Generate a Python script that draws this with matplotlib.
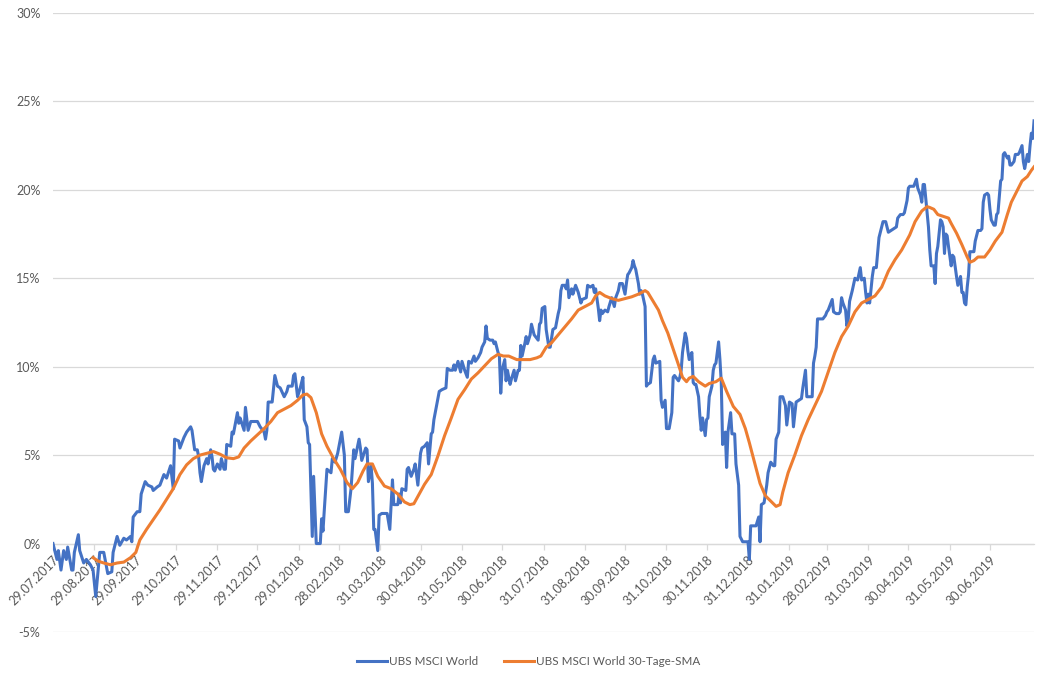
import pandas as pd
import matplotlib.pyplot as plt
import matplotlib.dates as mdates
from matplotlib.ticker import FuncFormatter

plt.rcParams['font.family'] = ['Lato', 'DejaVu Sans']

start = pd.Timestamp('2017-07-29')

# UBS MSCI World, performance in % (day = days since 29.07.2017)
blue_days = [
    0, 3, 4, 6, 8, 10, 11, 14, 15, 16, 19, 20, 23, 25, 28, 30, 32, 34, 35, 38,
    40, 41, 44, 45, 48, 50, 53, 55, 58, 59, 60, 63, 65, 66, 69, 71, 74, 75, 78, 80,
    83, 85, 88, 90, 91, 94, 95, 98, 100, 103, 104, 106, 108, 109, 110, 111, 113, 115, 116, 118,
    119, 120, 121, 123, 125, 126, 128, 129, 130, 133, 134, 135, 138, 139, 140, 143, 144, 146, 148, 153,
    155, 158, 159, 160, 161, 164, 166, 168, 170, 173, 175, 176, 179, 180, 181, 183, 185, 187, 188, 190,
    191, 192, 194, 195, 197, 200, 201, 202, 203, 205, 208, 209, 211, 213, 215, 216, 218, 219, 221, 223,
    225, 226, 229, 230, 231, 234, 235, 236, 238, 239, 240, 241, 243, 244, 246, 250, 252, 254, 255, 258,
    259, 260, 261, 264, 265, 266, 268, 270, 271, 273, 275, 276, 278, 280, 281, 283, 284, 285, 287, 289,
    291, 294, 295, 297, 299, 300, 301, 303, 305, 306, 308, 310, 311, 313, 315, 316, 318, 320, 321, 323,
    324, 325, 327, 329, 330, 331, 333, 334, 335, 336, 338, 339, 340, 342, 343, 345, 346, 348, 349, 350,
    351, 353, 354, 355, 357, 358, 360, 363, 364, 365, 366, 368, 369, 371, 372, 374, 376, 378, 379, 380,
    381, 383, 384, 385, 386, 388, 389, 391, 393, 395, 396, 399, 400, 402, 404, 405, 406, 408, 409, 410,
    411, 413, 415, 416, 418, 420, 421, 423, 424, 426, 428, 429, 430, 431, 433, 434, 435, 436, 438, 439,
    440, 441, 443, 444, 445, 447, 449, 450, 451, 454, 455, 456, 458, 459, 461, 463, 464, 465, 468, 469,
    470, 471, 473, 474, 475, 476, 478, 479, 480, 481, 483, 484, 485, 486, 488, 489, 490, 491, 493, 494,
    495, 496, 498, 499, 500, 501, 503, 504, 505, 507, 508, 510, 511, 513, 514, 516, 520, 521, 522, 524,
    526, 528, 529, 530, 532, 534, 535, 537, 539, 540, 541, 543, 544, 546, 548, 549, 551, 553, 554, 556,
    558, 560, 561, 563, 564, 565, 568, 569, 570, 571, 572, 575, 576, 578, 579, 580, 581, 583, 584, 586,
    588, 589, 590, 591, 593, 594, 595, 596, 598, 600, 602, 604, 605, 607, 608, 609, 610, 611, 613, 614,
    616, 618, 620, 621, 623, 625, 627, 629, 631, 632, 634, 636, 637, 639, 640, 641, 644, 645, 646, 647,
    649, 650, 651, 652, 654, 655, 656, 657, 659, 660, 661, 662, 664, 665, 666, 667, 668, 669, 670, 672,
    673, 674, 676, 677, 679, 680, 681, 682, 683, 684, 685, 686, 689, 690, 691, 692, 694, 695, 696, 697,
    699, 700, 701, 702, 704, 705, 706, 707, 709, 710, 711, 712, 714, 715, 716, 717, 719, 720, 722, 723,
    725, 726, 727, 729, 730, 731, 732, 733, 734,
]
blue_vals = [
    0.0, -0.9, -0.4, -1.5, -0.4, -0.9, -0.2, -1.5, -1.5, -0.5, 0.5, -0.4, -1.1, -0.9, -1.2, -1.5, -3.0, -1.3, -0.5, -0.5,
    -1.3, -1.7, -1.6, -0.5, 0.4, -0.1, 0.3, 0.2, 0.4, 0.1, 1.5, 1.8, 1.8, 2.8, 3.5, 3.3, 3.2, 3.0, 3.2, 3.3,
    3.9, 3.7, 4.4, 3.1, 5.9, 5.8, 5.4, 6.0, 6.3, 6.6, 6.4, 5.3, 5.3, 4.9, 4.0, 3.5, 4.4, 4.8, 4.5, 5.3,
    4.9, 4.2, 4.1, 4.5, 4.2, 4.8, 4.2, 4.2, 5.6, 5.5, 6.3, 6.2, 7.4, 6.8, 7.1, 6.4, 7.7, 6.4, 6.9, 6.9,
    6.6, 6.3, 5.9, 6.4, 8.0, 8.0, 9.5, 8.9, 8.8, 8.3, 8.6, 8.9, 8.9, 9.5, 9.6, 8.3, 8.8, 9.4, 7.0, 6.6,
    5.7, 5.6, 0.4, 3.8, 0.0, 0.0, 1.4, 0.7, 1.9, 4.2, 4.0, 4.8, 4.6, 5.1, 5.9, 6.3, 5.0, 1.8, 1.8, 3.1,
    5.3, 4.8, 5.9, 5.4, 4.7, 5.4, 5.3, 3.5, 4.4, 3.4, 0.8, 0.8, -0.4, 1.6, 1.7, 1.7, 0.8, 3.6, 2.2, 2.2,
    2.8, 2.3, 3.1, 3.0, 4.2, 4.3, 3.8, 4.2, 4.5, 3.3, 5.1, 5.4, 5.5, 5.7, 4.5, 6.2, 6.3, 7.0, 7.8, 8.6,
    8.7, 8.8, 9.9, 9.8, 9.8, 10.1, 9.8, 10.3, 9.7, 10.3, 9.8, 9.4, 10.3, 10.2, 10.6, 10.3, 10.5, 10.8, 11.1, 11.4,
    12.3, 11.6, 11.5, 11.5, 11.3, 11.4, 10.8, 10.6, 8.5, 9.8, 10.4, 9.2, 9.8, 9.0, 9.3, 9.8, 9.2, 9.8, 9.8, 11.2,
    10.6, 11.3, 11.7, 11.3, 11.8, 12.4, 11.8, 11.5, 12.4, 12.5, 13.3, 13.4, 12.1, 11.1, 11.1, 12.1, 12.2, 13.0, 13.3, 14.3,
    14.6, 14.6, 14.4, 14.9, 13.9, 14.4, 14.1, 14.6, 14.2, 13.6, 13.8, 13.9, 14.6, 14.5, 14.6, 14.2, 14.4, 13.3, 12.6, 13.2,
    13.0, 13.2, 13.1, 13.4, 13.9, 13.4, 13.9, 14.3, 14.7, 14.7, 14.1, 14.7, 15.2, 15.3, 15.6, 16.0, 15.7, 15.5, 14.7, 14.1,
    14.3, 14.1, 13.4, 8.9, 9.0, 9.1, 10.4, 10.6, 10.2, 10.3, 8.1, 7.7, 8.1, 6.5, 6.5, 7.4, 9.4, 9.5, 9.2, 9.4,
    9.8, 10.8, 11.9, 11.6, 10.9, 10.4, 10.8, 9.1, 9.0, 9.0, 8.3, 7.2, 6.4, 7.1, 6.1, 7.0, 7.1, 8.3, 8.9, 9.8,
    10.1, 10.2, 11.4, 10.4, 9.1, 5.6, 6.3, 4.3, 6.3, 7.4, 6.2, 6.2, 4.5, 3.3, 0.4, 0.1, 0.1, -0.9, 1.0, 1.0,
    1.0, 1.5, 0.1, 2.2, 2.3, 3.3, 4.0, 4.6, 4.4, 4.4, 5.9, 6.3, 8.3, 8.3, 7.8, 6.7, 8.0, 7.9, 6.6, 8.0,
    8.1, 8.2, 8.8, 9.8, 8.3, 8.3, 8.3, 10.2, 10.6, 11.1, 12.7, 12.7, 12.7, 12.9, 13.1, 13.2, 13.4, 13.8, 13.1, 13.0,
    13.0, 13.1, 13.9, 13.6, 13.2, 12.3, 12.7, 13.7, 14.3, 15.0, 14.9, 15.6, 14.9, 15.0, 14.2, 13.6, 14.1, 13.6, 15.1, 15.6,
    15.6, 17.3, 17.9, 18.2, 18.2, 17.6, 17.7, 17.8, 17.9, 18.4, 18.6, 18.6, 18.7, 19.4, 20.1, 20.2, 20.2, 20.4, 20.6, 20.1,
    19.7, 19.3, 20.3, 20.3, 18.7, 17.9, 16.6, 15.7, 15.7, 14.7, 16.4, 16.8, 18.3, 18.2, 17.9, 16.4, 17.5, 17.4, 16.8, 15.7,
    16.3, 16.2, 15.1, 14.6, 15.1, 14.2, 14.2, 13.6, 13.5, 14.5, 15.2, 16.5, 16.5, 17.1, 17.4, 17.7, 17.7, 17.8, 19.3, 19.7,
    19.8, 19.7, 18.9, 18.3, 18.0, 18.0, 18.6, 18.7, 20.5, 20.6, 22.0, 22.1, 21.8, 21.9, 21.4, 21.4, 21.6, 22.0, 22.0, 22.1,
    22.5, 21.6, 21.2, 22.0, 21.6, 22.5, 23.2, 22.9, 23.9,
]

# UBS MSCI World 30-Tage-SMA, in %
sma_days = [
    30, 34, 38, 43, 48, 53, 58, 62, 65, 70, 75, 80, 85, 90, 95, 100, 105, 110, 115, 120,
    125, 130, 135, 139, 143, 148, 153, 158, 163, 168, 173, 178, 183, 187, 190, 193, 197, 201, 205, 210,
    215, 220, 224, 228, 232, 235, 239, 243, 248, 253, 258, 263, 267, 270, 274, 278, 283, 288, 293, 298,
    303, 308, 313, 318, 323, 328, 333, 337, 341, 347, 352, 357, 362, 365, 369, 373, 378, 383, 388, 393,
    398, 403, 406, 409, 413, 418, 423, 428, 433, 438, 443, 445, 449, 453, 456, 460, 464, 468, 471, 474,
    476, 479, 483, 488, 491, 496, 500, 504, 509, 514, 518, 521, 525, 529, 533, 537, 541, 544, 546, 550,
    555, 560, 565, 570, 575, 580, 585, 590, 595, 600, 605, 610, 615, 620, 625, 630, 635, 641, 645, 650,
    654, 656, 659, 662, 666, 670, 672, 676, 680, 684, 686, 689, 692, 697, 701, 705, 710, 714, 717, 721,
    725, 729, 732, 734,
]
sma_vals = [
    -0.8, -1.0, -1.1, -1.2, -1.1, -1.05, -0.8, -0.5, 0.2, 0.8, 1.35, 1.9, 2.5, 3.1, 3.9, 4.45, 4.8, 5.0, 5.1, 5.2,
    5.05, 4.85, 4.8, 4.9, 5.4, 5.8, 6.15, 6.5, 6.9, 7.4, 7.6, 7.8, 8.1, 8.4, 8.45, 8.25, 7.4, 6.2, 5.5, 4.8,
    4.2, 3.45, 3.1, 3.45, 4.1, 4.5, 4.5, 3.8, 3.25, 3.1, 2.8, 2.35, 2.2, 2.25, 2.8, 3.35, 3.9, 4.95, 6.1, 7.1,
    8.15, 8.7, 9.3, 9.65, 10.05, 10.45, 10.7, 10.6, 10.6, 10.4, 10.4, 10.4, 10.5, 10.6, 11.1, 11.35, 11.8, 12.25, 12.7, 13.2,
    13.4, 13.6, 14.0, 14.2, 14.0, 13.85, 13.75, 13.85, 13.95, 14.1, 14.3, 14.2, 13.7, 13.2, 12.6, 11.9, 11.0, 10.1, 9.4, 9.15,
    9.35, 9.45, 9.15, 8.9, 9.05, 9.15, 9.35, 8.6, 7.75, 7.3, 6.5, 5.7, 4.55, 3.4, 2.7, 2.4, 2.1, 2.2, 2.9, 4.0,
    5.0, 6.1, 7.0, 7.8, 8.6, 9.7, 10.8, 11.7, 12.3, 13.1, 13.6, 13.8, 14.0, 14.5, 15.4, 16.05, 16.6, 17.45, 18.2, 18.8,
    19.05, 19.0, 18.9, 18.6, 18.5, 18.4, 18.1, 17.55, 16.9, 16.2, 15.9, 16.0, 16.2, 16.2, 16.6, 17.1, 17.6, 18.6, 19.3, 19.9,
    20.5, 20.75, 21.1, 21.3,
]

tick_labels = [
    '29.07.2017', '29.08.2017', '29.09.2017', '29.10.2017', '29.11.2017', '29.12.2017',
    '29.01.2018', '28.02.2018', '31.03.2018', '30.04.2018', '31.05.2018', '30.06.2018',
    '31.07.2018', '31.08.2018', '30.09.2018', '31.10.2018', '30.11.2018', '31.12.2018',
    '31.01.2019', '28.02.2019', '31.03.2019', '30.04.2019', '31.05.2019', '30.06.2019',
]

blue_dates = start + pd.to_timedelta(blue_days, unit='D')
sma_dates = start + pd.to_timedelta(sma_days, unit='D')
tick_dates = pd.to_datetime(tick_labels, format='%d.%m.%Y')

fig = plt.figure(figsize=(10.53, 6.81), dpi=100)
ax = fig.add_axes([0.0503, 0.072, 0.9317, 0.909])

ax.plot(blue_dates, blue_vals, color='#4472C4', lw=2.2, label='UBS MSCI World', zorder=3)
ax.plot(sma_dates, sma_vals, color='#ED7D31', lw=2.2, label='UBS MSCI World 30-Tage-SMA', zorder=4)

ax.set_xlim(blue_dates[0], blue_dates[-1])
ax.set_ylim(-5, 30)
ax.set_yticks(range(-5, 31, 5))
ax.yaxis.set_major_formatter(FuncFormatter(lambda v, p: f'{v:.0f}%'))
ax.grid(axis='y', color='#D9D9D9', lw=0.9)
ax.set_axisbelow(True)

for s in ['top', 'right', 'left']:
    ax.spines[s].set_visible(False)
ax.spines['bottom'].set_position(('data', 0))
ax.spines['bottom'].set_color('#D9D9D9')
ax.spines['bottom'].set_linewidth(0.9)

ax.set_xticks(mdates.date2num(tick_dates))
ax.set_xticklabels(tick_labels, rotation=45, ha='right', rotation_mode='anchor')
ax.tick_params(axis='x', direction='out', length=4, color='#D9D9D9', width=0.9,
               labelsize=9, labelcolor='#595959', pad=3)
ax.tick_params(axis='y', length=0, labelsize=9, labelcolor='#595959', pad=9)

fig.legend(loc='center', bbox_to_anchor=(0.502, 0.029), ncol=2, frameon=False,
           fontsize=8.4, labelcolor='#595959', handlelength=2.6, columnspacing=2.2,
           handletextpad=0.15)

fig.savefig('out.png', dpi=100)
